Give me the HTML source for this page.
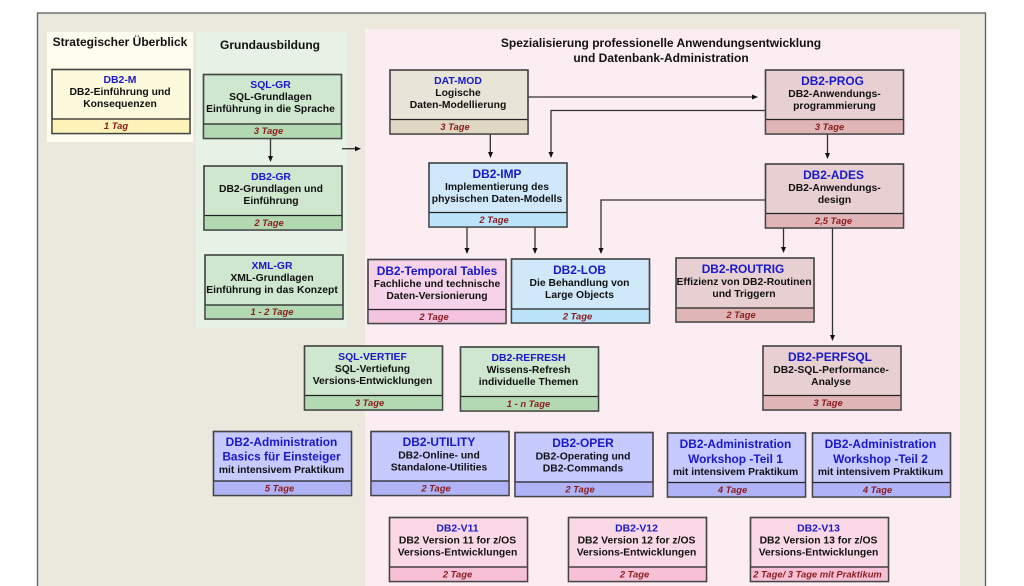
<!DOCTYPE html>
<html lang="de"><head><meta charset="utf-8"><title>DB2 Kursübersicht</title>
<style>
html,body{margin:0;padding:0;background:#fff;width:1024px;height:586px;overflow:hidden}
svg{display:block;filter:blur(0.3px)}
text{font-family:"Liberation Sans",sans-serif;font-weight:bold;text-anchor:middle;fill:#111}
.h{font-size:12px}
.n{font-size:10.4px;fill:#1818cc}
.N{font-size:11.9px;fill:#1818cc}
.b{font-size:10.35px}
.d{font-size:9.4px;font-style:italic;fill:#8a1c1c}
.box{stroke:#444;stroke-width:1.4}
.div{stroke:#222;stroke-width:1.3}
.c{stroke:#333;stroke-width:1.3;fill:none}
.a{fill:#111}
.g1{fill:#cfe6cf}.g2{fill:#b3d9b3}
.y1{fill:#fdf9dd}.y2{fill:#fdf2b8}
.t1{fill:#e9e4d8}.t2{fill:#e0d8c5}
.s1{fill:#cfe9fb}.s2{fill:#bbe3fa}
.r1{fill:#e8d0d2}.r2{fill:#dfb5b8}
.p1{fill:#f6d3e8}.p2{fill:#f3c3e0}
.u1{fill:#c6caff}.u2{fill:#b0b4f6}
.v1{fill:#fbd8e6}.v2{fill:#f7c0d6}
</style></head><body>
<svg width="1024" height="586" viewBox="0 0 1024 586" xmlns="http://www.w3.org/2000/svg">
<rect x="37.5" y="13" width="948" height="590" fill="#ebe8dd" stroke="#666" stroke-width="1.4"/>
<rect x="47" y="32" width="146" height="110" fill="#fffdf0"/>
<rect x="196" y="32" width="151" height="296" fill="#e6f2e6"/>
<rect x="365" y="29" width="595" height="570" fill="#fcedf3"/>
<text class="h" x="120" y="46">Strategischer Überblick</text>
<text class="h" x="270" y="49">Grundausbildung</text>
<text class="h" x="661" y="47">Spezialisierung professionelle Anwendungsentwicklung</text>
<text class="h" x="661" y="62">und Datenbank-Administration</text>

<!-- connectors -->
<path class="c" d="M270.500 138V156"/><path class="a" d="M268 156h5l-2.500 6z"/>
<path class="c" d="M342 148.700H355"/><path class="a" d="M355 146.200v5l6-2.500z"/>
<path class="c" d="M490.300 134V152"/><path class="a" d="M488 152h5l-2.500 6z"/>
<path class="c" d="M528 97H753"/><path class="a" d="M752 94.500v5l6-2.500z"/>
<path class="c" d="M765 110.500H551V152"/><path class="a" d="M548.500 152h5l-2.500 6z"/>
<path class="c" d="M827.500 134V153"/><path class="a" d="M825 153h5l-2.500 6z"/>
<path class="c" d="M765 200H601V249"/><path class="a" d="M598.500 248h5l-2.500 6z"/>
<path class="c" d="M467 227V249"/><path class="a" d="M464.500 248h5l-2.500 6z"/>
<path class="c" d="M535 227V249"/><path class="a" d="M532.500 248h5l-2.500 6z"/>
<path class="c" d="M783.500 228V248"/><path class="a" d="M781 247h5l-2.500 6z"/>
<path class="c" d="M832.500 228V336"/><path class="a" d="M830 335h5l-2.500 6z"/>

<!-- DB2-M -->
<g transform="translate(52,69.500)"><rect class="box y1" width="138" height="64"/><rect class="y2" y="49.500" width="138" height="14.500"/><path class="div" d="M0 49.500H138"/><rect class="box" width="138" height="64" fill="none"/>
<text class="n" x="68" y="13.500">DB2-M</text><text class="b" x="68" y="25.500">DB2-Einführung und</text><text class="b" x="68" y="37.500">Konsequenzen</text><text class="d" x="64" y="59.500">1 Tag</text></g>
<!-- SQL-GR -->
<g transform="translate(203.500,74.500)"><rect class="box g1" width="138" height="64"/><rect class="g2" y="49.500" width="138" height="14.500"/><path class="div" d="M0 49.500H138"/><rect class="box" width="138" height="64" fill="none"/>
<text class="n" x="67" y="13.500">SQL-GR</text><text class="b" x="67" y="25.500">SQL-Grundlagen</text><text class="b" x="67" y="37.500">Einführung in die Sprache</text><text class="d" x="65" y="59.500">3 Tage</text></g>
<!-- DB2-GR -->
<g transform="translate(204,166)"><rect class="box g1" width="138" height="64"/><rect class="g2" y="49.500" width="138" height="14.500"/><path class="div" d="M0 49.500H138"/><rect class="box" width="138" height="64" fill="none"/>
<text class="n" x="67" y="14">DB2-GR</text><text class="b" x="67" y="26">DB2-Grundlagen und</text><text class="b" x="67" y="38">Einführung</text><text class="d" x="65" y="60">2 Tage</text></g>
<!-- XML-GR -->
<g transform="translate(205,255)"><rect class="box g1" width="138" height="64"/><rect class="g2" y="50" width="138" height="14"/><path class="div" d="M0 50H138"/><rect class="box" width="138" height="64" fill="none"/>
<text class="n" x="67" y="14">XML-GR</text><text class="b" x="67" y="26">XML-Grundlagen</text><text class="b" x="67" y="38">Einführung in das Konzept</text><text class="d" x="67" y="60">1 - 2 Tage</text></g>
<!-- DAT-MOD -->
<g transform="translate(390,70)"><rect class="box t1" width="138" height="64"/><rect class="t2" y="49.500" width="138" height="14.500"/><path class="div" d="M0 49.500H138"/><rect class="box" width="138" height="64" fill="none"/>
<text class="n" x="68" y="14">DAT-MOD</text><text class="b" x="68" y="26">Logische</text><text class="b" x="68" y="38">Daten-Modellierung</text><text class="d" x="65" y="60">3 Tage</text></g>
<!-- DB2-IMP -->
<g transform="translate(429,163)"><rect class="box s1" width="138" height="64"/><rect class="s2" y="49.500" width="138" height="14.500"/><path class="div" d="M0 49.500H138"/><rect class="box" width="138" height="64" fill="none"/>
<text class="N" x="68" y="15">DB2-IMP</text><text class="b" x="68" y="27">Implementierung des</text><text class="b" x="68" y="39">physischen Daten-Modells</text><text class="d" x="65" y="60">2 Tage</text></g>
<!-- DB2-PROG -->
<g transform="translate(765.500,70)"><rect class="box r1" width="138" height="64"/><rect class="r2" y="49.500" width="138" height="14.500"/><path class="div" d="M0 49.500H138"/><rect class="box" width="138" height="64" fill="none"/>
<text class="N" x="67" y="15">DB2-PROG</text><text class="b" x="69" y="27">DB2-Anwendungs-</text><text class="b" x="69" y="39">programmierung</text><text class="d" x="64" y="60">3 Tage</text></g>
<!-- DB2-ADES -->
<g transform="translate(765.500,164)"><rect class="box r1" width="138" height="64"/><rect class="r2" y="49.500" width="138" height="14.500"/><path class="div" d="M0 49.500H138"/><rect class="box" width="138" height="64" fill="none"/>
<text class="N" x="68" y="15">DB2-ADES</text><text class="b" x="69" y="27">DB2-Anwendungs-</text><text class="b" x="69" y="39">design</text><text class="d" x="68" y="60">2,5 Tage</text></g>
<!-- Temporal -->
<g transform="translate(368,259.500)"><rect class="box p1" width="138" height="64"/><rect class="p2" y="50" width="138" height="14"/><path class="div" d="M0 50H138"/><rect class="box" width="138" height="64" fill="none"/>
<text class="N" x="69" y="15.500">DB2-Temporal Tables</text><text class="b" x="69" y="27.500">Fachliche und technische</text><text class="b" x="69" y="39.500">Daten-Versionierung</text><text class="d" x="66" y="60.500">2 Tage</text></g>
<!-- LOB -->
<g transform="translate(511.500,259)"><rect class="box s1" width="138" height="64"/><rect class="s2" y="50" width="138" height="14"/><path class="div" d="M0 50H138"/><rect class="box" width="138" height="64" fill="none"/>
<text class="N" x="68" y="15">DB2-LOB</text><text class="b" x="68" y="27">Die Behandlung von</text><text class="b" x="68" y="39">Large Objects</text><text class="d" x="66" y="60.500">2 Tage</text></g>
<!-- ROUTRIG -->
<g transform="translate(676,258)"><rect class="box r1" width="138" height="64"/><rect class="r2" y="50" width="138" height="14"/><path class="div" d="M0 50H138"/><rect class="box" width="138" height="64" fill="none"/>
<text class="N" x="67" y="15">DB2-ROUTRIG</text><text class="b" x="68" y="27">Effizienz von DB2-Routinen</text><text class="b" x="68" y="39">und Triggern</text><text class="d" x="65" y="60">2 Tage</text></g>
<!-- PERFSQL -->
<g transform="translate(763,346)"><rect class="box r1" width="138" height="64"/><rect class="r2" y="49.500" width="138" height="14.500"/><path class="div" d="M0 49.500H138"/><rect class="box" width="138" height="64" fill="none"/>
<text class="N" x="67" y="15">DB2-PERFSQL</text><text class="b" x="68" y="27">DB2-SQL-Performance-</text><text class="b" x="68" y="39">Analyse</text><text class="d" x="65" y="60">3 Tage</text></g>
<!-- SQL-VERTIEF -->
<g transform="translate(304.500,346)"><rect class="box g1" width="138" height="64"/><rect class="g2" y="49.500" width="138" height="14.500"/><path class="div" d="M0 49.500H138"/><rect class="box" width="138" height="64" fill="none"/>
<text class="n" x="68" y="14">SQL-VERTIEF</text><text class="b" x="68" y="26">SQL-Vertiefung</text><text class="b" x="68" y="38">Versions-Entwicklungen</text><text class="d" x="65" y="60">3 Tage</text></g>
<!-- REFRESH -->
<g transform="translate(460.500,347)"><rect class="box g1" width="138" height="64"/><rect class="g2" y="49.500" width="138" height="14.500"/><path class="div" d="M0 49.500H138"/><rect class="box" width="138" height="64" fill="none"/>
<text class="n" x="68" y="14">DB2-REFRESH</text><text class="b" x="68" y="26">Wissens-Refresh</text><text class="b" x="68" y="38">individuelle Themen</text><text class="d" x="68" y="60">1 - n Tage</text></g>
<!-- Admin Basics -->
<g transform="translate(213.500,431.500)"><rect class="box u1" width="138" height="64"/><rect class="u2" y="49.500" width="138" height="14.500"/><path class="div" d="M0 49.500H138"/><rect class="box" width="138" height="64" fill="none"/>
<text class="N" x="68" y="14.500">DB2-Administration</text><text class="N" x="68" y="29">Basics für Einsteiger</text><text class="b" x="68" y="41.500">mit intensivem Praktikum</text><text class="d" x="66" y="60">5 Tage</text></g>
<!-- UTILITY -->
<g transform="translate(371,431.500)"><rect class="box u1" width="138" height="64"/><rect class="u2" y="49.500" width="138" height="14.500"/><path class="div" d="M0 49.500H138"/><rect class="box" width="138" height="64" fill="none"/>
<text class="N" x="68" y="14.500">DB2-UTILITY</text><text class="b" x="68" y="27">DB2-Online- und</text><text class="b" x="68" y="39">Standalone-Utilities</text><text class="d" x="65" y="60">2 Tage</text></g>
<!-- OPER -->
<g transform="translate(515,432.500)"><rect class="box u1" width="138" height="64"/><rect class="u2" y="49.500" width="138" height="14.500"/><path class="div" d="M0 49.500H138"/><rect class="box" width="138" height="64" fill="none"/>
<text class="N" x="68" y="14.500">DB2-OPER</text><text class="b" x="68" y="27">DB2-Operating und</text><text class="b" x="68" y="39">DB2-Commands</text><text class="d" x="65" y="60">2 Tage</text></g>
<!-- WS1 -->
<g transform="translate(667.500,433)"><rect class="box u1" width="138" height="64"/><rect class="u2" y="49.500" width="138" height="14.500"/><path class="div" d="M0 49.500H138"/><rect class="box" width="138" height="64" fill="none"/>
<text class="N" x="68" y="15">DB2-Administration</text><text class="N" x="68" y="30">Workshop -Teil 1</text><text class="b" x="68" y="42">mit intensivem Praktikum</text><text class="d" x="65" y="60">4 Tage</text></g>
<!-- WS2 -->
<g transform="translate(812.500,433)"><rect class="box u1" width="138" height="64"/><rect class="u2" y="49.500" width="138" height="14.500"/><path class="div" d="M0 49.500H138"/><rect class="box" width="138" height="64" fill="none"/>
<text class="N" x="68" y="15">DB2-Administration</text><text class="N" x="68" y="30">Workshop -Teil 2</text><text class="b" x="68" y="42">mit intensivem Praktikum</text><text class="d" x="65" y="60">4 Tage</text></g>
<!-- V11 -->
<g transform="translate(389.500,517.500)"><rect class="box v1" width="138" height="64"/><rect class="v2" y="49.500" width="138" height="14.500"/><path class="div" d="M0 49.500H138"/><rect class="box" width="138" height="64" fill="none"/>
<text class="n" x="68" y="14">DB2-V11</text><text class="b" x="68" y="26">DB2 Version 11 for z/OS</text><text class="b" x="68" y="38">Versions-Entwicklungen</text><text class="d" x="68" y="60">2 Tage</text></g>
<!-- V12 -->
<g transform="translate(568.500,517.500)"><rect class="box v1" width="138" height="64"/><rect class="v2" y="49.500" width="138" height="14.500"/><path class="div" d="M0 49.500H138"/><rect class="box" width="138" height="64" fill="none"/>
<text class="n" x="68" y="14">DB2-V12</text><text class="b" x="68" y="26">DB2 Version 12 for z/OS</text><text class="b" x="68" y="38">Versions-Entwicklungen</text><text class="d" x="66" y="60">2 Tage</text></g>
<!-- V13 -->
<g transform="translate(750.500,517.500)"><rect class="box v1" width="138" height="64"/><rect class="v2" y="49.500" width="138" height="14.500"/><path class="div" d="M0 49.500H138"/><rect class="box" width="138" height="64" fill="none"/>
<text class="n" x="68" y="14">DB2-V13</text><text class="b" x="68" y="26">DB2 Version 13 for z/OS</text><text class="b" x="68" y="38">Versions-Entwicklungen</text><text class="d" x="67" y="60">2 Tage/ 3 Tage mit Praktikum</text></g>
</svg>
</body></html>
